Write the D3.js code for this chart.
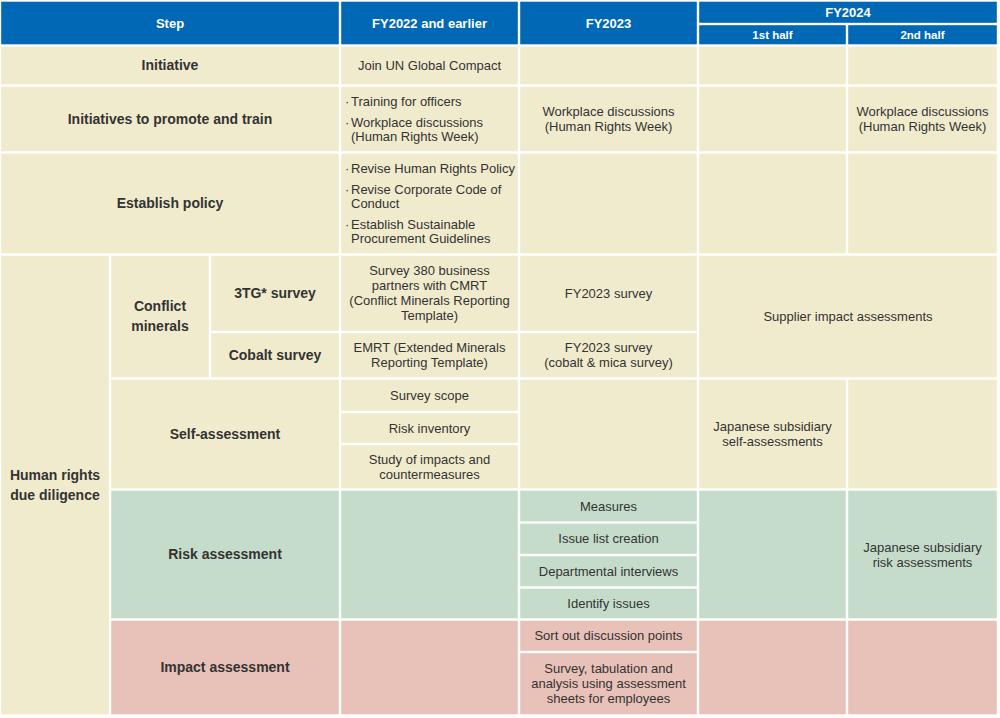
<!DOCTYPE html>
<html>
<head>
<meta charset="utf-8">
<script src="https://cdn.jsdelivr.net/npm/d3@7"></script>
<style>
  html, body { margin: 0; padding: 0; background: #ffffff; }
  svg { display: block; }
</style>
</head>
<body>
<div id="chart"></div>
<script>
// ---------------- DATA ----------------
const headerLabels = ["Step", "FY2022 and earlier", "FY2023", "FY2024", "1st half", "2nd half"];
const stepLabels = ["Initiative", "Initiatives to promote and train", "Establish policy"];
const ddLabels = ["Human rights\ndue diligence", "Conflict\nminerals", "3TG* survey", "Cobalt survey",
                  "Self-assessment", "Risk assessment", "Impact assessment"];
const fy2022Items = [
  "Join UN Global Compact",
  ["Training for officers", "Workplace discussions\n(Human Rights Week)"],
  ["Revise Human Rights Policy", "Revise Corporate Code of\nConduct", "Establish Sustainable\nProcurement Guidelines"],
  "Survey 380 business\npartners with CMRT\n(Conflict Minerals Reporting\nTemplate)",
  "EMRT (Extended Minerals\nReporting Template)",
  ["Survey scope", "Risk inventory", "Study of impacts and\ncountermeasures"]
];
const fy2023Items = [
  "Workplace discussions\n(Human Rights Week)",
  "FY2023 survey",
  "FY2023 survey\n(cobalt & mica survey)",
  ["Measures", "Issue list creation", "Departmental interviews", "Identify issues"],
  ["Sort out discussion points", "Survey, tabulation and\nanalysis using assessment\nsheets for employees"]
];
const fy2024Items = [
  "Supplier impact assessments",
  "Japanese subsidiary\nself-assessments",
  "Workplace discussions\n(Human Rights Week)",
  "Japanese subsidiary\nrisk assessments"
];

// ---------------- LAYOUT ----------------
const W = 1000, H = 718;
const colKeys = ["c0", "c1", "c2", "c3", "c4", "c5", "c6", "c7"];
const x = d3.scaleOrdinal().domain(colKeys).range([0, 110, 210, 340, 519, 698, 847, 998]);
const rowKeys = ["top", "hsplit", "hbot", "r1", "r2", "r3", "tg", "cm", "sa1", "sa2", "sa",
                 "ra1", "ra2", "ra3", "ra", "ia1", "bottom"];
const y = d3.scaleOrdinal().domain(rowKeys)
  .range([0.5, 24, 45.5, 85.5, 152.5, 254.5, 332, 378.5, 412, 444, 489.5, 522.5, 555, 587.5, 619.5, 652, 715.5]);

const GAP = 2.4;
const COL = { head: "#0068b4", beige: "#f1ebcd", green: "#c6dccb", pink: "#e8c2b8" };
const TXT = "#333333";

// cell table built from data: [rowStart,rowEnd,colStart,colEnd, fill, content, kind]
const cells = [];
function add(r0, r1, c0, c1, fill, content, kind) { cells.push({ r0, r1, c0, c1, fill, content, kind }); }

// header
add("top", "hbot", "c0", "c3", COL.head, headerLabels[0], "head");
add("top", "hbot", "c3", "c4", COL.head, headerLabels[1], "head");
add("top", "hbot", "c4", "c5", COL.head, headerLabels[2], "head");
add("top", "hsplit", "c5", "c7", COL.head, headerLabels[3], "head");
add("hsplit", "hbot", "c5", "c6", COL.head, headerLabels[4], "subhead");
add("hsplit", "hbot", "c6", "c7", COL.head, headerLabels[5], "subhead");

// row: Initiative
add("hbot", "r1", "c0", "c3", COL.beige, stepLabels[0], "label");
add("hbot", "r1", "c3", "c4", COL.beige, fy2022Items[0], "text");
add("hbot", "r1", "c4", "c5", COL.beige, "", "text");
add("hbot", "r1", "c5", "c6", COL.beige, "", "text");
add("hbot", "r1", "c6", "c7", COL.beige, "", "text");
// row: promote and train
add("r1", "r2", "c0", "c3", COL.beige, stepLabels[1], "label");
add("r1", "r2", "c3", "c4", COL.beige, fy2022Items[1], "bullets");
add("r1", "r2", "c4", "c5", COL.beige, fy2023Items[0], "text");
add("r1", "r2", "c5", "c6", COL.beige, "", "text");
add("r1", "r2", "c6", "c7", COL.beige, fy2024Items[2], "text");
// row: Establish policy
add("r2", "r3", "c0", "c3", COL.beige, stepLabels[2], "label");
add("r2", "r3", "c3", "c4", COL.beige, fy2022Items[2], "bullets");
add("r2", "r3", "c4", "c5", COL.beige, "", "text");
add("r2", "r3", "c5", "c6", COL.beige, "", "text");
add("r2", "r3", "c6", "c7", COL.beige, "", "text");
// Human rights due diligence
add("r3", "bottom", "c0", "c1", COL.beige, ddLabels[0], "label");
add("r3", "cm", "c1", "c2", COL.beige, ddLabels[1], "label");
add("r3", "tg", "c2", "c3", COL.beige, ddLabels[2], "label");
add("tg", "cm", "c2", "c3", COL.beige, ddLabels[3], "label");
add("r3", "tg", "c3", "c4", COL.beige, fy2022Items[3], "text");
add("tg", "cm", "c3", "c4", COL.beige, fy2022Items[4], "text");
add("r3", "tg", "c4", "c5", COL.beige, fy2023Items[1], "text");
add("tg", "cm", "c4", "c5", COL.beige, fy2023Items[2], "text");
add("r3", "cm", "c5", "c7", COL.beige, fy2024Items[0], "text");
// Self-assessment
add("cm", "sa", "c1", "c3", COL.beige, ddLabels[4], "label");
add("cm", "sa1", "c3", "c4", COL.beige, fy2022Items[5][0], "text");
add("sa1", "sa2", "c3", "c4", COL.beige, fy2022Items[5][1], "text");
add("sa2", "sa", "c3", "c4", COL.beige, fy2022Items[5][2], "text");
add("cm", "sa", "c4", "c5", COL.beige, "", "text");
add("cm", "sa", "c5", "c6", COL.beige, fy2024Items[1], "text");
add("cm", "sa", "c6", "c7", COL.beige, "", "text");
// Risk assessment
add("sa", "ra", "c1", "c3", COL.green, ddLabels[5], "label");
add("sa", "ra", "c3", "c4", COL.green, "", "text");
add("sa", "ra1", "c4", "c5", COL.green, fy2023Items[3][0], "text");
add("ra1", "ra2", "c4", "c5", COL.green, fy2023Items[3][1], "text");
add("ra2", "ra3", "c4", "c5", COL.green, fy2023Items[3][2], "text");
add("ra3", "ra", "c4", "c5", COL.green, fy2023Items[3][3], "text");
add("sa", "ra", "c5", "c6", COL.green, "", "text");
add("sa", "ra", "c6", "c7", COL.green, fy2024Items[3], "text");
// Impact assessment
add("ra", "bottom", "c1", "c3", COL.pink, ddLabels[6], "label");
add("ra", "bottom", "c3", "c4", COL.pink, "", "text");
add("ra", "ia1", "c4", "c5", COL.pink, fy2023Items[4][0], "text");
add("ia1", "bottom", "c4", "c5", COL.pink, fy2023Items[4][1], "text");
add("ra", "bottom", "c5", "c6", COL.pink, "", "text");
add("ra", "bottom", "c6", "c7", COL.pink, "", "text");

// ---------------- DRAW ----------------
const svg = d3.select("#chart").append("svg").attr("width", W).attr("height", H)
  .style("font-family", "'Liberation Sans', Arial, Helvetica, sans-serif");

svg.append("rect").attr("width", W).attr("height", H).attr("fill", "#ffffff");

const g = svg.selectAll("g.cell").data(cells).join("g").attr("class", "cell");

g.append("rect")
  .attr("x", d => x(d.c0) + GAP / 2)
  .attr("y", d => y(d.r0) + GAP / 2)
  .attr("width", d => x(d.c1) - x(d.c0) - GAP)
  .attr("height", d => y(d.r1) - y(d.r0) - GAP)
  .attr("fill", d => d.fill);

const style = {
  head:    { size: 13,   weight: "bold",   fill: "#ffffff", lh: 15 },
  subhead: { size: 11.5, weight: "bold",   fill: "#ffffff", lh: 14 },
  label:   { size: 14,   weight: "bold",   fill: TXT,       lh: 20 },
  text:    { size: 13,   weight: "normal", fill: TXT,       lh: 15 },
  bullets: { size: 13,   weight: "normal", fill: TXT,       lh: 14.5 }
};

g.each(function (d) {
  if (!d.content || (Array.isArray(d.content) && !d.content.length)) return;
  const s = style[d.kind];
  const sel = d3.select(this);
  const cx = (x(d.c0) + x(d.c1)) / 2;
  const cy = (y(d.r0) + y(d.r1)) / 2;
  const t = sel.append("text")
    .attr("font-size", s.size)
    .attr("font-weight", s.weight)
    .attr("fill", s.fill);

  if (d.kind === "bullets") {
    const itemGap = 6;
    const items = d.content.map(it => it.split("\n"));
    const nLines = d3.sum(items, it => it.length);
    const total = (nLines - 1) * s.lh + (items.length - 1) * itemGap;
    let yy = cy - total / 2;
    const bx = x(d.c0) + 5;
    items.forEach(lines => {
      lines.forEach((ln, i) => {
        if (i === 0) {
          sel.append("text").attr("x", bx).attr("y", yy).attr("dy", "0.35em")
            .attr("font-size", s.size).attr("fill", s.fill).text("·");
        }
        t.append("tspan").attr("x", bx + 6).attr("y", yy).attr("dy", "0.35em").text(ln);
        yy += s.lh;
      });
      yy += itemGap - 0;
    });
  } else {
    const lines = d.content.split("\n");
    const total = (lines.length - 1) * s.lh;
    t.attr("text-anchor", "middle");
    lines.forEach((ln, i) => {
      t.append("tspan").attr("x", cx).attr("y", cy - total / 2 + i * s.lh).attr("dy", "0.35em").text(ln);
    });
  }
});
</script>
</body>
</html>
